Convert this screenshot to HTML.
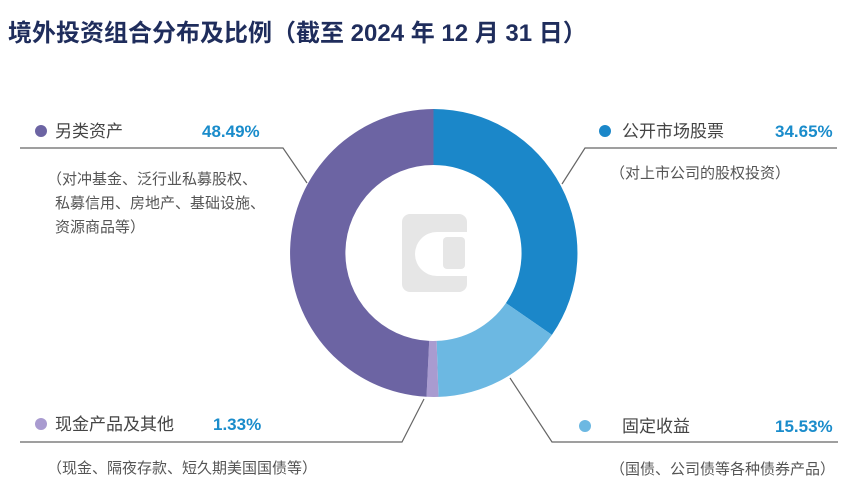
<!DOCTYPE html>
<html><head><meta charset="utf-8"><style>
body{margin:0;background:#fff;}
svg text{font-family:"Liberation Sans","Noto Sans CJK SC",sans-serif;}
</style></head><body>
<svg width="865" height="489" viewBox="0 0 865 489" xmlns="http://www.w3.org/2000/svg">
<rect width="865" height="489" fill="#fff"/>
<text x="8" y="41" font-size="24" font-weight="bold" fill="#1f2d5c">境外投资组合分布及比例（截至 2024 年 12 月 31 日）</text>
<g transform="translate(433.5,253)">
<path d="M0,-144 A144,144 0 0 1 118.4,81.9 L72.4,50.1 A88,88 0 0 0 0,-88 Z" fill="#1b87c9"/>
<path d="M118.4,81.9 A144,144 0 0 1 5.0,143.9 L3.1,87.9 A88,88 0 0 0 72.4,50.1 Z" fill="#6cb8e2"/>
<path d="M5.0,143.9 A144,144 0 0 1 -7.0,143.8 L-4.3,87.9 A88,88 0 0 0 3.1,87.9 Z" fill="#a99bd0"/>
<path d="M-7.0,143.8 A144,144 0 0 1 0,-144 L0,-88 A88,88 0 0 0 -4.3,87.9 Z" fill="#6c64a3"/>
</g>
<rect x="402" y="214" width="65" height="78" rx="8" fill="#e6e6e6"/>
<path d="M467,232 L437,232 A22,22 0 0 0 415,254 A22,22 0 0 0 437,276 L467,276 Z" fill="#fff"/>
<rect x="443" y="237" width="22" height="32" rx="4" fill="#e6e6e6"/>
<g stroke="#666" stroke-width="1.2" fill="none">
<polyline points="20,148 283,148 307,183"/>
<polyline points="837,148 585,148 562,184"/>
<polyline points="20,442 402,442 424,399"/>
<polyline points="838,442 552,442 510,378"/>
</g>
<g font-size="17" fill="#444">
<circle cx="41" cy="131" r="6" fill="#6c64a3"/>
<text x="55" y="137">另类资产</text>
<text x="202" y="137" font-weight="bold" font-size="17" fill="#1a8ccb">48.49%</text>
<circle cx="605" cy="131" r="6" fill="#1b87c9"/>
<text x="622" y="137">公开市场股票</text>
<text x="775" y="137" font-weight="bold" fill="#1a8ccb">34.65%</text>
<circle cx="41" cy="424" r="6" fill="#a99bd0"/>
<text x="55" y="430">现金产品及其他</text>
<text x="213" y="430" font-weight="bold" fill="#1a8ccb">1.33%</text>
<circle cx="585" cy="426" r="6" fill="#6cb8e2"/>
<text x="622" y="432">固定收益</text>
<text x="775" y="432" font-weight="bold" fill="#1a8ccb">15.53%</text>
</g>
<g font-size="15" fill="#555">
<text x="47" y="184">（对冲基金、泛行业私募股权、</text>
<text x="55" y="208">私募信用、房地产、基础设施、</text>
<text x="55" y="232">资源商品等）</text>
<text x="610" y="178">（对上市公司的股权投资）</text>
<text x="47" y="473">（现金、隔夜存款、短久期美国国债等）</text>
<text x="610" y="474">（国债、公司债等各种债券产品）</text>
</g>
</svg>
</body></html>
